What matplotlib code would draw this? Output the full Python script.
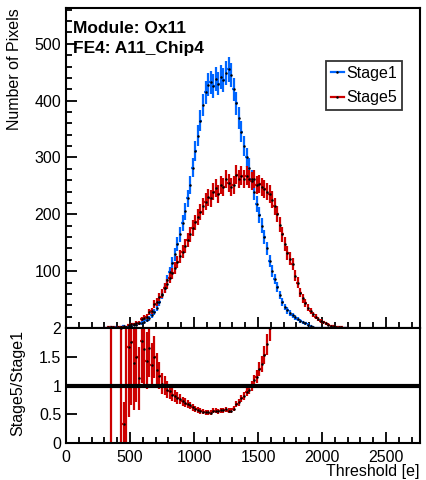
import numpy as np
import matplotlib
matplotlib.use("Agg")
import matplotlib.pyplot as plt
from matplotlib.ticker import MultipleLocator

plt.rcParams['font.family'] = ['Liberation Sans', 'DejaVu Sans']

# ---- data (20 e bins, centres 310 ... 2190) ----
bin_width = 20
bin_centers = list(range(310, 2200, 20))

stage1 = [0, 0, 1, 0, 1, 0, 1, 3, 2, 3, 4, 5, 6, 8, 9, 11, 14, 17, 22, 28,
          36, 46, 58, 70, 84, 98, 114, 130, 148, 165, 185, 205, 228, 252, 282, 312, 338, 365, 392, 415,
          428, 432, 426, 438, 430, 442, 436, 448, 455, 445, 420, 395, 370, 345, 320, 300, 282, 262, 240, 218,
          198, 180, 160, 140, 118, 100, 86, 72, 58, 46, 37, 31, 26, 22, 19, 16, 13, 10, 8, 6,
          4, 2, 0, 0, 0, 0, 0, 0, 0, 0, 0, 0, 0, 0, 0]

stage5 = [0, 1, 1, 1, 0, 1, 2, 1, 2, 5, 7, 7, 9, 9, 16, 18, 20, 28, 30, 42,
          46, 54, 60, 70, 78, 88, 96, 106, 116, 126, 134, 144, 155, 165, 176, 186, 196, 204, 214, 222,
          230, 228, 240, 246, 236, 252, 248, 262, 255, 248, 252, 270, 262, 268, 262, 268, 262, 258, 262, 252,
          254, 248, 244, 240, 236, 226, 214, 200, 182, 165, 148, 132, 122, 112, 92, 80, 62, 52, 44, 36,
          30, 24, 20, 16, 12, 10, 8, 6, 4, 3, 2, 1, 1, 0, 0]

series_names = ["Stage1", "Stage5"]
series_colors = ["#0066ff", "#cc0000"]

title_lines = ["Module: Ox11", "FE4: A11_Chip4"]
x_label = "Threshold [e]"
y_label_top = "Number of Pixels"
y_label_bottom = "Stage5/Stage1"

x_max = 2765
y_max_top = 563

# ---- figure ----
W, H = 427, 480
fig = plt.figure(figsize=(W / 100, H / 100), dpi=100)

L, R = 66 / W, 420 / W
ax1 = fig.add_axes([L, 1 - 328 / H, R - L, (328 - 8) / H])
ax2 = fig.add_axes([L, 1 - 443 / H, R - L, (443 - 328) / H])

x = np.array(bin_centers, dtype=float)
s1 = np.array(stage1, dtype=float)
s5 = np.array(stage5, dtype=float)

lw = 1.6
ms = 1.6
for vals, col in [(s1, series_colors[0]), (s5, series_colors[1])]:
    ax1.errorbar(x, vals, yerr=np.sqrt(vals), xerr=bin_width / 2, fmt='.', color=col,
                 ecolor=col, elinewidth=lw, capsize=0, mfc='black', mec='black', ms=ms)

# ratio
mask = (s1 > 0) & (s5 > 0)
r = s5[mask] / s1[mask]
re = r * np.sqrt(1 / s5[mask] + 1 / s1[mask])
ax2.errorbar(x[mask], r, yerr=re, xerr=bin_width / 2, fmt='.', color=series_colors[1],
             ecolor=series_colors[1], elinewidth=lw, capsize=0, mfc='black', mec='black', ms=ms)
ax2.axhline(1.0, color='black', lw=3.0, zorder=5)

for ax in (ax1, ax2):
    ax.set_xlim(0, x_max)
    for sp in ax.spines.values():
        sp.set_linewidth(1.5)
    ax.xaxis.set_major_locator(MultipleLocator(500))
    ax.xaxis.set_minor_locator(MultipleLocator(100))
    ax.tick_params(axis='both', which='both', direction='in', top=False, right=False,
                   labelsize=11.5, width=1.3)
    ax.tick_params(axis='both', which='major', length=8)
    ax.tick_params(axis='both', which='minor', length=4)

ax1.set_ylim(0, y_max_top)
ax1.yaxis.set_major_locator(MultipleLocator(100))
ax1.yaxis.set_minor_locator(MultipleLocator(20))
ax1.set_yticks([100, 200, 300, 400, 500])
ax1.tick_params(axis='x', labelbottom=False)

ax2.set_ylim(0, 2)
ax2.set_yticks([0, 0.5, 1, 1.5, 2])
ax2.set_yticklabels(["0", "0.5", "1", "1.5", "2"])
ax2.yaxis.set_minor_locator(MultipleLocator(0.5))
ax2.tick_params(axis='y', which='minor', length=0)
ax2.tick_params(axis='x', pad=5)

# labels
fig.text(15 / W, 1 - 8 / H, y_label_top, rotation=90, ha='center', va='top', fontsize=11.5)
fig.text(18 / W, 1 - 383 / H, y_label_bottom, rotation=90, ha='center', va='center', fontsize=11.5)
fig.text(420 / W, 1 - 476 / H, x_label, ha='right', va='baseline', fontsize=11.5)

fig.text(73 / W, 1 - 33 / H, title_lines[0], fontsize=12.5,
         fontweight='bold', va='baseline', ha='left')
fig.text(73 / W, 1 - 53 / H, title_lines[1], fontsize=12.5,
         fontweight='bold', va='baseline', ha='left')

# legend
handles = [plt.Line2D([], [], color=c, lw=lw, marker='.', mfc='black', mec='black', ms=ms)
           for c in series_colors]
leg = ax1.legend(handles, series_names, loc='upper left',
                 bbox_to_anchor=((326 - 66) / (420 - 66), 1 - (61 - 8) / (328 - 8)),
                 fontsize=11.5, frameon=True, fancybox=False, handlelength=0.8,
                 handletextpad=0.15, borderpad=0.3, labelspacing=0.6, borderaxespad=0)
leg.get_frame().set_edgecolor('black')
leg.get_frame().set_linewidth(1.3)

fig.savefig("out.png", dpi=100)
